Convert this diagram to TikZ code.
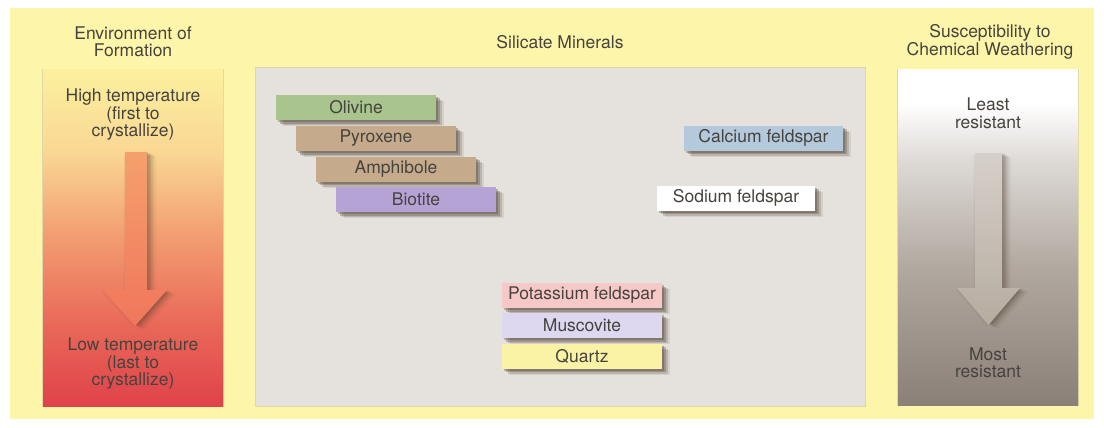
\documentclass[tikz,border=0pt]{standalone}
\usepackage{fontspec}
\setmainfont{TeX Gyre Heros}
\usetikzlibrary{shadows}
\definecolor{bgyellow}{HTML}{FDF5A9}
\definecolor{midgray}{HTML}{E5E2DD}
\definecolor{txt}{HTML}{46433E}
\definecolor{shadowc}{HTML}{4A3A2C}
\definecolor{olivinec}{HTML}{A9C48D}
\definecolor{tanc}{HTML}{C5AB8B}
\definecolor{biotitec}{HTML}{B5A3D6}
\definecolor{calciumc}{HTML}{B5C9DD}
\definecolor{potassiumc}{HTML}{F6C8C7}
\definecolor{muscovitec}{HTML}{DDD7EF}
\definecolor{quartzc}{HTML}{FAF3A6}
\pgfdeclareverticalshading{leftshade}{100bp}{
  color(0bp)=(rgb,255:red,224;green,66;blue,74);
  color(25bp)=(rgb,255:red,224;green,66;blue,74);
  color(37bp)=(rgb,255:red,233;green,104;blue,88);
  color(51bp)=(rgb,255:red,243;green,160;blue,115);
  color(63bp)=(rgb,255:red,250;green,216;blue,148);
  color(75bp)=(rgb,255:red,251;green,240;blue,158);
  color(100bp)=(rgb,255:red,251;green,240;blue,158)}
\pgfdeclareverticalshading{rightshade}{100bp}{
  color(0bp)=(rgb,255:red,138;green,128;blue,119);
  color(25bp)=(rgb,255:red,138;green,128;blue,119);
  color(45bp)=(rgb,255:red,176;green,167;blue,158);
  color(61bp)=(rgb,255:red,220;green,216;blue,212);
  color(70bp)=(rgb,255:red,255;green,255;blue,255);
  color(100bp)=(rgb,255:red,255;green,255;blue,255)}
\tikzset{
  txtfont/.style={font=\fontsize{17.5}{17.5}\selectfont, text=txt, align=center},
  mineral/.style={rectangle, minimum width=160pt, minimum height=25pt, inner sep=0pt,
    font=\fontsize{17.5}{17.5}\selectfont, text=txt,
    drop shadow={shadow xshift=8pt, shadow yshift=-6pt, opacity=.10, fill=shadowc},
    drop shadow={shadow xshift=6pt, shadow yshift=-5pt, opacity=.18, fill=shadowc},
    drop shadow={shadow xshift=4pt, shadow yshift=-3.5pt, opacity=.28, fill=shadowc},
    drop shadow={shadow xshift=2pt, shadow yshift=-2pt, opacity=.3, fill=shadowc}},
}
\begin{document}
\begin{tikzpicture}[x=1pt,y=-1pt]
\useasboundingbox (0,0) rectangle (1104,428);
\fill[white] (0,0) rectangle (1104,428);
\fill[bgyellow] (10,8) rectangle (1094,419);

% panels
\fill[black!40,opacity=.3] (42,69) rectangle (224,407);
\shade[shading=leftshade] (43,70) rectangle (223,406);
\fill[black!40,opacity=.3] (255,67) rectangle (866,407);
\fill[midgray] (256,68) rectangle (865,406);
\fill[black!40,opacity=.3] (897,69) rectangle (1079,406);
\shade[shading=rightshade] (898,70) rectangle (1078,405);

% titles
\node[txtfont] (t1) at (133,41.5) {Environment of\\Formation};
\node[txtfont] (t2) at (560,42) {Silicate Minerals};
\node[txtfont] (t3) at (990,42) {Susceptibility to\\Chemical Weathering};

% left arrow
\foreach \d/\e/\o in {9/4/.05,7/3/.07,5.5/2.5/.09,4/1.5/.12,2.5/1/.14,1/0.5/.12,-1.5/1.5/.06}{
  \fill[shadowc,opacity=\o,xshift=\d pt,yshift=-\e pt]
    (125,152) -- (147,152) -- (147,290) -- (167,290) -- (135,326) -- (103,290) -- (125,290) -- cycle;
}
\shade[top color={rgb,255:red,245;green,160;blue,108}, bottom color={rgb,255:red,240;green,118;blue,92}]
  (125,152) -- (147,152) -- (147,290) -- (167,290) -- (135,326) -- (103,290) -- (125,290) -- cycle;

% right arrow
\foreach \d/\e/\o in {9/4/.05,7/3/.07,5.5/2.5/.09,4/1.5/.12,2.5/1/.14,1/0.5/.12,-1.5/1.5/.06}{
  \fill[shadowc,opacity=\o,xshift=\d pt,yshift=-\e pt]
    (975,153) -- (1002,153) -- (1002,288) -- (1020,288) -- (988.5,325) -- (957,288) -- (975,288) -- cycle;
}
\shade[top color={rgb,255:red,214;green,208;blue,202}, bottom color={rgb,255:red,182;green,172;blue,160}]
  (975,153) -- (1002,153) -- (1002,288) -- (1020,288) -- (988.5,325) -- (957,288) -- (975,288) -- cycle;

% panel texts
\node[txtfont] (high) at (133,115) {High temperature\\(first to\\crystallize)};
\node[txtfont] (low) at (133,364) {Low temperature\\(last to\\crystallize)};
\node[txtfont] (least) at (988,113.5) {Least\\resistant};
\node[txtfont] (most) at (988,363) {Most\\resistant};

% minerals
\node[mineral, fill=olivinec] (olivine) at (356,107.5) {Olivine};
\node[mineral, fill=tanc] (pyroxene) at (376,138.5) {Pyroxene};
\node[mineral, fill=tanc] (amphibole) at (396,169) {Amphibole};
\node[mineral, fill=biotitec] (biotite) at (416,199.5) {Biotite};
\node[mineral, fill=calciumc, minimum width=159pt] (calcium) at (763.5,138) {Calcium feldspar};
\node[mineral, fill=white, minimum width=158pt] (sodium) at (736,198) {Sodium feldspar};
\node[mineral, fill=potassiumc] (potassium) at (582,295.5) {Potassium feldspar};
\node[mineral, fill=muscovitec] (muscovite) at (582,325.5) {Muscovite};
\node[mineral, fill=quartzc] (quartz) at (582,356) {Quartz};
\end{tikzpicture}
\end{document}
